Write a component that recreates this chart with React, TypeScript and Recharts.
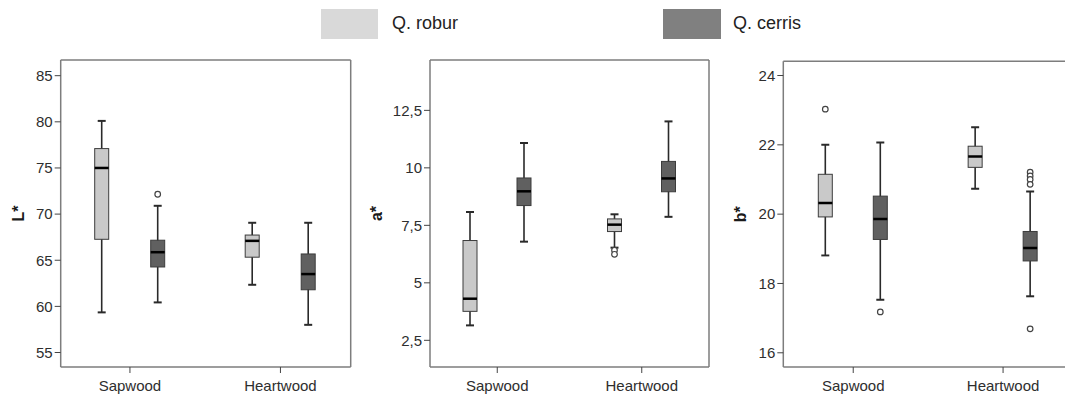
import React from 'react';
import { ComposedChart, Bar, XAxis, YAxis } from 'recharts';

const FONT = '"Liberation Sans", Arial, Helvetica, sans-serif';

const categories = ['Sapwood', 'Heartwood'];
const seriesNames = ['Q. robur', 'Q. cerris'];

// five-number summaries [min, q1, median, q3, max] per category
const lRobur = [[59.35, 67.27, 75.0, 77.1, 80.1], [62.34, 65.33, 67.1, 67.73, 69.06]];
const lCerris = [[60.43, 64.27, 65.87, 67.17, 70.9], [58.0, 61.8, 63.5, 65.68, 69.06]];
const lRoburOut = [[], []];
const lCerrisOut = [[72.15], []];

const aRobur = [[3.15, 3.76, 4.31, 6.84, 8.08], [6.53, 7.23, 7.53, 7.78, 7.98]];
const aCerris = [[6.79, 8.36, 8.98, 9.56, 11.08], [7.87, 8.96, 9.54, 10.28, 12.02]];
const aRoburOut = [[], [6.42, 6.24]];
const aCerrisOut = [[], []];

const bRobur = [[18.81, 19.92, 20.32, 21.15, 22.0], [20.73, 21.35, 21.66, 21.96, 22.51]];
const bCerris = [[17.53, 19.27, 19.86, 20.52, 22.07], [17.63, 18.65, 19.02, 19.5, 20.65]];
const bRoburOut = [[23.03], []];
const bCerrisOut = [[17.18], [21.21, 21.1, 21.0, 20.86, 16.69]];

const lTicks = [55, 60, 65, 70, 75, 80, 85];
const aTicks = [2.5, 5, 7.5, 10, 12.5];
const bTicks = [16, 18, 20, 22, 24];

const lDomain = [53.43, 86.7];
const aDomain = [1.34, 14.69];
const bDomain = [15.59, 24.41];

const ROBUR_FILL = '#c9c9c9';
const CERRIS_FILL = '#606060';
const FRAME = '#7d7d7d';

function buildRows(r: number[][], c: number[][], ro: number[][], co: number[][]) {
  return categories.map((cat, i) => ({
    category: cat,
    robur: [r[i][0], r[i][4]],
    cerris: [c[i][0], c[i][4]],
    roburStats: r[i],
    cerrisStats: c[i],
    roburOut: ro[i],
    cerrisOut: co[i],
  }));
}

const makeBoxShape = (key: string, fill: string) => (props: any) => {
  const { x, y, width, height, payload } = props;
  if (!payload) return null;
  const stats = payload[key + 'Stats'];
  const outs: number[] = payload[key + 'Out'] || [];
  const [mn, q1, med, q3, mx] = stats;
  const top = Math.min(y, y + height);
  const bottom = Math.max(y, y + height);
  const py = (v: number) => bottom + ((v - mn) * (top - bottom)) / (mx - mn);
  const cx = x + width / 2;
  const capHalf = 4;
  return (
    <g>
      <line x1={cx} x2={cx} y1={py(mx)} y2={py(mn)} stroke="#2a2a2a" strokeWidth={1.6} />
      <line x1={cx - capHalf} x2={cx + capHalf} y1={py(mx)} y2={py(mx)} stroke="#2a2a2a" strokeWidth={2} />
      <line x1={cx - capHalf} x2={cx + capHalf} y1={py(mn)} y2={py(mn)} stroke="#2a2a2a" strokeWidth={2} />
      <rect x={x} y={py(q3)} width={width} height={py(q1) - py(q3)} fill={fill} stroke="#3c3c3c" strokeWidth={1} />
      <line x1={x} x2={x + width} y1={py(med)} y2={py(med)} stroke="#000" strokeWidth={2.5} />
      {outs.map((o, k) => (
        <circle key={k} cx={cx} cy={py(o)} r={2.8} fill="#fff" stroke="#444" strokeWidth={1.2} />
      ))}
    </g>
  );
};

function AxisTitle(props: any) {
  const { viewBox, text, offsetX } = props;
  const vb = viewBox || { x: 0, y: 0, width: 0, height: 0 };
  const x = vb.x + offsetX;
  const y = vb.y + vb.height / 2;
  return (
    <text
      x={x}
      y={y}
      transform={`rotate(-90 ${x} ${y})`}
      textAnchor="middle"
      dominantBaseline="central"
      fontSize={16}
      fontWeight="bold"
      fill="#1a1a1a"
      fontFamily={FONT}
    >
      {text}
    </text>
  );
}

const fmtComma = (v: number) => String(v).replace('.', ',');

function Panel(p: any) {
  const rows = buildRows(p.r, p.c, p.ro, p.co);
  const tickStyle = { fontSize: 15, fill: '#2e2e2e', fontFamily: FONT };
  return (
    <div style={{ position: 'absolute', left: p.left, top: 0, width: p.width, height: 396 }}>
      <ComposedChart
        width={p.width}
        height={396}
        data={rows}
        margin={{ top: p.marginTop, right: p.marginRight, bottom: 0, left: 0 }}
        barGap={p.gap}
      >
        <XAxis
          dataKey="category"
          padding={{ left: p.padL, right: p.padR }}
          height={29}
          interval={0}
          tickSize={6}
          tickMargin={7}
          tick={tickStyle}
          axisLine={{ stroke: FRAME, strokeWidth: 1.5 }}
          tickLine={{ stroke: '#444', strokeWidth: 1 }}
        />
        <XAxis
          xAxisId="top"
          orientation="top"
          dataKey="category"
          height={1}
          tick={false}
          tickLine={false}
          axisLine={{ stroke: FRAME, strokeWidth: 1.5 }}
        />
        <YAxis
          width={p.yWidth}
          domain={p.domain}
          ticks={p.ticks}
          allowDataOverflow
          tickFormatter={p.fmt}
          tickSize={6}
          tickMargin={2}
          tick={tickStyle}
          axisLine={{ stroke: FRAME, strokeWidth: 1.5 }}
          tickLine={{ stroke: '#444', strokeWidth: 1 }}
          label={<AxisTitle text={p.title} offsetX={p.titleX} />}
        />
        <YAxis
          yAxisId="right"
          orientation="right"
          width={1}
          domain={p.domain}
          allowDataOverflow
          tick={false}
          tickLine={false}
          axisLine={{ stroke: FRAME, strokeWidth: 1.5 }}
        />
        <Bar dataKey="robur" name={seriesNames[0]} barSize={14} isAnimationActive={false} shape={makeBoxShape('robur', ROBUR_FILL)} />
        <Bar dataKey="cerris" name={seriesNames[1]} barSize={14} isAnimationActive={false} shape={makeBoxShape('cerris', CERRIS_FILL)} />
      </ComposedChart>
    </div>
  );
}

export default function App() {
  return (
    <div
      style={{
        position: 'absolute',
        left: 0,
        top: 0,
        width: 1065,
        height: 396,
        overflow: 'hidden',
        background: '#fff',
        fontFamily: FONT,
      }}
    >
      <div style={{ position: 'absolute', left: 321, top: 9, width: 57, height: 30, background: '#d9d9d9' }} />
      <div style={{ position: 'absolute', left: 392, top: 12, fontSize: 18, color: '#222', lineHeight: '22px' }}>{seriesNames[0]}</div>
      <div style={{ position: 'absolute', left: 663, top: 9, width: 58, height: 30, background: '#808080' }} />
      <div style={{ position: 'absolute', left: 733, top: 12, fontSize: 18, color: '#222', lineHeight: '22px' }}>{seriesNames[1]}</div>

      <Panel
        left={0} width={360} marginTop={59} marginRight={8.3} yWidth={60.7}
        domain={lDomain} ticks={lTicks} fmt={(v: number) => String(v)}
        title="L*" titleX={18} padL={-6} padR={-5} gap={42}
        r={lRobur} c={lCerris} ro={lRoburOut} co={lCerrisOut}
      />
      <Panel
        left={360} width={360} marginTop={59} marginRight={10} yWidth={70}
        domain={aDomain} ticks={aTicks} fmt={fmtComma}
        title="a*" titleX={16} padL={-5} padR={-5} gap={40}
        r={aRobur} c={aCerris} ro={aRoburOut} co={aCerrisOut}
      />
      <Panel
        left={720} width={365} marginTop={60.3} marginRight={11} yWidth={63.3}
        domain={bDomain} ticks={bTicks} fmt={(v: number) => String(v)}
        title="b*" titleX={21} padL={-5} padR={-5} gap={41}
        r={bRobur} c={bCerris} ro={bRoburOut} co={bCerrisOut}
      />
    </div>
  );
}
